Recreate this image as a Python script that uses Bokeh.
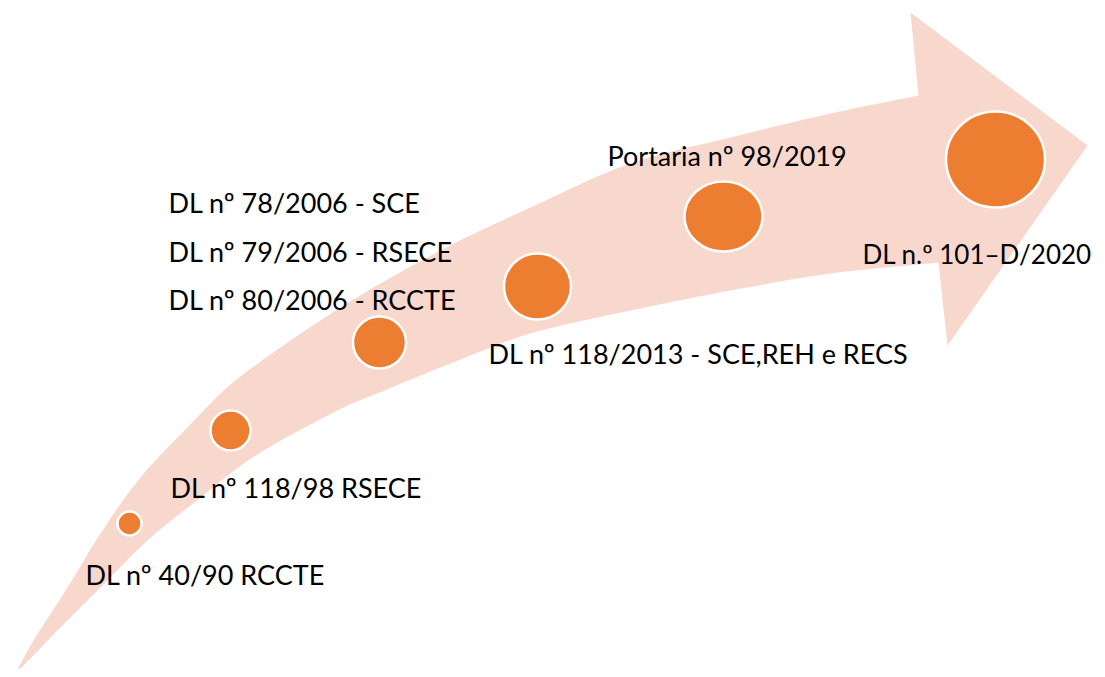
import numpy as np
from bokeh.plotting import figure
from bokeh.models import Range1d, ColumnDataSource
from bokeh.core.properties import value
from bokeh.embed import file_html
from bokeh.resources import INLINE

# ---- content -------------------------------------------------------------
years = [1990, 1998, 2006, 2013, 2019, 2020]
marker_x = [129, 230, 379, 537, 723, 995]
marker_y = [523, 430, 342, 286, 216, 159]
marker_w = [24, 40, 53, 67, 78, 99]
marker_h = [24, 40, 52, 66, 70, 96]

labels = [
    "DL nº 40/90 RCCTE",
    "DL nº 118/98 RSECE",
    "DL nº 78/2006 - SCE",
    "DL nº 79/2006 - RSECE",
    "DL nº 80/2006 - RCCTE",
    "DL nº 118/2013 - SCE,REH e RECS",
    "Portaria nº 98/2019",
    "DL n.º 101–D/2020",
]
label_x = [85, 170, 168, 168, 168, 488, 607, 862]
label_y = [574, 487, 202, 251, 299, 353, 155, 253]

# ---- arrow outline (decorative shape) -----------------------------------
top_edge = [(15, 673), (33, 640), (67, 587), (100, 533), (140, 477), (187, 427),
            (240, 376), (340, 307), (440, 250), (530, 207), (630, 163),
            (730, 137), (830, 113), (918, 95)]
head = [(910, 12), (1087, 145), (947, 345)]
bottom_edge = [(15, 673), (60, 627), (100, 587), (147, 540), (195, 501),
               (255, 455), (337, 410), (379, 392), (450, 363), (530, 333),
               (630, 310), (730, 290), (830, 273), (938, 262)]


def catmull(pts, n=12):
    pts = np.asarray(pts, dtype=float)
    ext = np.vstack([2 * pts[0] - pts[1], pts, 2 * pts[-1] - pts[-2]])
    out = []
    for i in range(1, len(ext) - 2):
        p0, p1, p2, p3 = ext[i - 1], ext[i], ext[i + 1], ext[i + 2]
        for t in np.linspace(0, 1, n, endpoint=False):
            t2, t3 = t * t, t * t * t
            pt = 0.5 * ((2 * p1) + (-p0 + p2) * t + (2 * p0 - 5 * p1 + 4 * p2 - p3) * t2
                        + (-p0 + 3 * p1 - 3 * p2 + p3) * t3)
            out.append(pt)
    out.append(pts[-1])
    return np.array(out)


top = catmull(top_edge)
bot = catmull(bottom_edge)[::-1]
outline = np.vstack([top, np.array(head, dtype=float), bot])

# ---- figure ---------------------------------------------------------------
W, H = 1097, 669
p = figure(width=W, height=H, x_range=Range1d(0, W), y_range=Range1d(H, 0),
           output_backend="svg", toolbar_location=None, min_border=0)
p.axis.visible = False
p.grid.visible = False
p.outline_line_color = None
p.background_fill_color = "white"
p.border_fill_color = "white"

p.patch(outline[:, 0], outline[:, 1], fill_color="#F8D8CC", line_color=None)

msrc = ColumnDataSource(dict(x=marker_x, y=marker_y, w=marker_w, h=marker_h, year=years))
p.ellipse(x="x", y="y", width="w", height="h", source=msrc,
          fill_color="#ED7D31", line_color="white", line_width=2.5)

lsrc = ColumnDataSource(dict(x=label_x[:-1], y=label_y[:-1], text=labels[:-1]))
p.text(x="x", y="y", text="text", source=lsrc, text_font=value("Lato"),
       text_font_size="27px", text_baseline="alphabetic", text_align="left",
       text_color="black")

lsrc2 = ColumnDataSource(dict(x=label_x[-1:], y=label_y[-1:], text=labels[-1:]))
p.text(x="x", y="y", text="text", source=lsrc2, text_font=value("Lato"),
       text_font_size="26px", text_baseline="alphabetic", text_align="left",
       text_color="black")

open("out.html", "w").write(file_html(p, INLINE))
